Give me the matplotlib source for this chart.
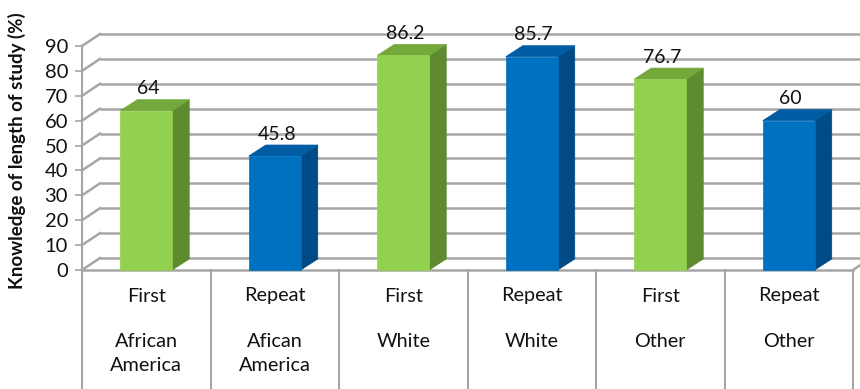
import matplotlib
matplotlib.use("Agg")
import matplotlib.pyplot as plt
from matplotlib.patches import Polygon, Rectangle

plt.rcParams['font.family'] = ['Lato', 'DejaVu Sans']

# ---- data ----
visit = ["First", "Repeat", "First", "Repeat", "First", "Repeat"]
group = ["African\nAmerica", "Afican\nAmerica", "White", "White", "Other", "Other"]
values = [64, 45.8, 86.2, 85.7, 76.7, 60]
value_labels = ["64", "45.8", "86.2", "85.7", "76.7", "60"]
yticks = [0, 10, 20, 30, 40, 50, 60, 70, 80, 90]
ylabel = "Knowledge of length of study (%)"

# ---- styles ----
green = dict(front="#92D050", side="#5E8B2F", top="#74A83A")
blue = dict(front="#0070C0", side="#004B86", top="#005CA3")
colors = [green, blue, green, blue, green, blue]
grid_c = "#A6A6A6"
txt_c = "#111111"

W, H = 860, 389
fig = plt.figure(figsize=(W / 100, H / 100), dpi=100)
ax = fig.add_axes([82 / W, (H - 270) / H, (853 - 82) / W, (270 - 46) / H])
ax.set_xlim(0, 6)
ax.set_ylim(0, 90)

# depth offsets in data units
px_x = 6 / (853 - 82)
px_y = 90 / (270 - 46)
dx, dy = 18 * px_x, 12 * px_y
bdx, bdy = 17 * px_x, 11 * px_y
table_bottom = -(H - 270) * px_y - 2

# back wall gridlines + side wall slants
for t in yticks:
    ax.plot([dx, 6 + dx + 1], [t + dy, t + dy], color=grid_c, lw=1.8,
            clip_on=False, zorder=1, solid_capstyle='butt')
    ax.plot([0, dx], [t, t + dy], color=grid_c, lw=1.8, clip_on=False, zorder=1)

# floor edges
ax.plot([0, 6], [0, 0], color=grid_c, lw=1.8, clip_on=False, zorder=2)
ax.plot([6, 6 + dx], [0, dy], color=grid_c, lw=1.8, clip_on=False, zorder=2)

# table vertical lines
for i in range(0, 7):
    ax.plot([i, i], [0, table_bottom], color=grid_c, lw=1.5, clip_on=False, zorder=2)
ax.plot([0, 0], [0, 90], color=grid_c, lw=1.5, clip_on=False, zorder=2)

# bars
bw = 52 * px_x
for i, (v, c) in enumerate(zip(values, colors)):
    x0 = i + 0.5 - bw / 2
    x1 = x0 + bw
    ax.add_patch(Polygon([(x1, 0), (x1 + bdx, bdy), (x1 + bdx, v + bdy), (x1, v)],
                         closed=True, facecolor=c["side"], edgecolor=c["side"],
                         lw=0.5, zorder=5, clip_on=False))
    ax.add_patch(Polygon([(x0, v), (x1, v), (x1 + bdx, v + bdy), (x0 + bdx, v + bdy)],
                         closed=True, facecolor=c["top"], edgecolor=c["top"],
                         lw=0.5, zorder=5, clip_on=False))
    ax.add_patch(Rectangle((x0, 0), bw, v, facecolor=c["front"], edgecolor=c["front"],
                           lw=0.5, zorder=6, clip_on=False))
    ax.text(i + 0.5 + 2 * px_x, v + bdy + 11 * px_y, value_labels[i], ha='center',
            va='center', fontsize=14, color=txt_c, zorder=7)

# category table labels
for i in range(6):
    ax.text(i + 0.5, -26 * px_y, visit[i], ha='center', va='center', fontsize=14.3,
            color=txt_c, clip_on=False)
    ax.text(i + 0.5, -63 * px_y, group[i], ha='center', va='top', fontsize=14.3,
            color=txt_c, linespacing=1.5, clip_on=False)

# axes styling
for s in ["top", "right", "bottom", "left"]:
    ax.spines[s].set_visible(False)
ax.set_xticks([])
ax.set_yticks(yticks)
ax.set_yticklabels([str(t) for t in yticks], fontsize=14.5, color=txt_c)
ax.tick_params(axis='y', direction='out', length=5, width=1.2, color=grid_c, pad=5)
ax.patch.set_alpha(0)

fig.text(17 / W, (H - 151) / H, ylabel, rotation=90, ha='center', va='center',
         fontsize=13.5, fontweight='bold', color=txt_c)

fig.savefig("out.png", dpi=100, facecolor='white')
